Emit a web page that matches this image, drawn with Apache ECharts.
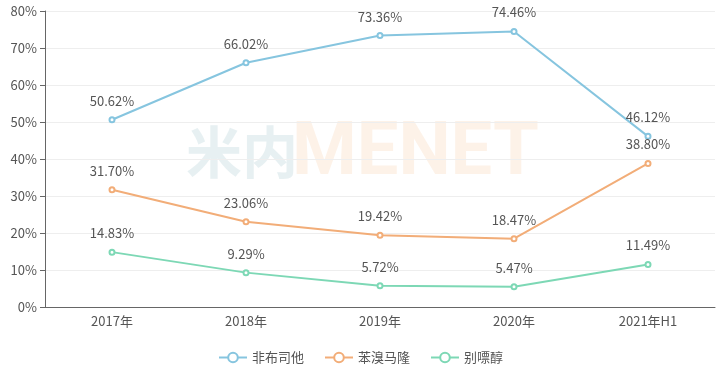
<!DOCTYPE html>
<html><head><meta charset="utf-8">
<script src="https://cdn.jsdelivr.net/npm/echarts@6/dist/echarts.min.js"></script>
<style>html,body{margin:0;padding:0;background:#fff}#c{width:721px;height:375px}</style>
</head><body><div id="c"></div>
<script>
var categories = ['2017年','2018年','2019年','2020年','2021年H1'];
var seriesNames = ['非布司他','苯溴马隆','别嘌醇'];
var s1 = [50.62, 66.02, 73.36, 74.46, 46.12];
var s2 = [31.70, 23.06, 19.42, 18.47, 38.80];
var s3 = [14.83, 9.29, 5.72, 5.47, 11.49];
var colors = ['#86c5df','#f2ad78','#7dd8b5'];
var font = '"Microsoft YaHei","Noto Sans CJK SC",sans-serif';
function mk(name, data, color){
  return {name:name,type:'line',data:data,symbol:'emptyCircle',symbolSize:5,
    lineStyle:{width:2,color:color},itemStyle:{color:color},
    label:{show:true,position:'top',distance:9,color:'#555',fontSize:13,fontFamily:font,
      formatter:function(p){return p.value.toFixed(2)+'%';}}};
}
var chart = echarts.init(document.getElementById('c'));
chart.setOption({
  animation:false,
  color:colors,
  grid:{left:45,right:6,top:11,bottom:68},
  graphic:[{type:'text',left:186,top:124,z:-1,style:{text:'米内',font:'bold 56px "Noto Sans CJK SC"',fill:'rgba(170,200,210,0.28)'}},
           {type:'text',left:292,top:118,z:-1,style:{text:'MENET',font:'bold 74px Roboto',fill:'rgba(245,190,140,0.2)'}}],
  legend:{bottom:6,left:'center',itemWidth:28,itemHeight:12,itemGap:20,
    textStyle:{color:'#555',fontSize:13,fontFamily:font},data:seriesNames},
  xAxis:{type:'category',data:categories,boundaryGap:true,
    axisLine:{lineStyle:{color:'#666'}},axisTick:{lineStyle:{color:'#666'}},
    axisLabel:{color:'#555',fontSize:13,fontFamily:font,margin:8}},
  yAxis:{type:'value',min:0,max:80,interval:10,
    axisLine:{show:true,lineStyle:{color:'#666'}},axisTick:{show:true,lineStyle:{color:'#666'}},
    axisLabel:{color:'#555',fontSize:13,fontFamily:font,formatter:'{value}%'},
    splitLine:{lineStyle:{color:'#eee'}}},
  series:[mk(seriesNames[0],s1,colors[0]),mk(seriesNames[1],s2,colors[1]),mk(seriesNames[2],s3,colors[2])]
});
</script></body></html>
